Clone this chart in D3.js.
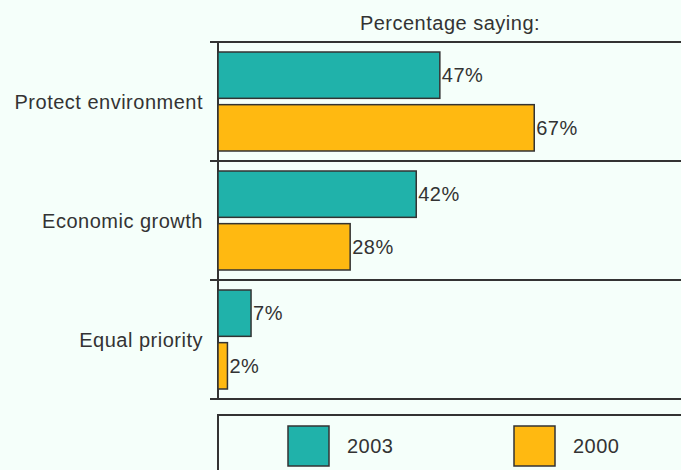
<!DOCTYPE html>
<html lang="en">
<head>
  <meta charset="UTF-8">
  <title>Percentage saying</title>
  <script src="https://d3js.org/d3.v7.min.js"></script>
  <style>
    html, body {
      margin: 0;
      padding: 0;
      background: #f5fffa;
    }
    svg text {
      font-family: 'Liberation Sans', Arial, sans-serif;
      font-size: 20px;
      letter-spacing: 0.5px;
      fill: #333;
    }
  </style>
</head>
<body>
  <div id="chart"></div>
  <script>
    var categories = ["Protect environment", "Economic growth", "Equal priority"];
    var seriesNames = ["2003", "2000"];
    var values2003 = [47, 42, 7];
    var values2000 = [67, 28, 2];
    var title = "Percentage saying:";

    var width = 681,
        height = 470,
        colors = ["#20b2aa", "#ffb911"],
        ink = "#333";

    var data = categories.map(function(c, i) {
      return { name: c, values: [values2003[i], values2000[i]] };
    });

    var svg = d3.select("#chart").append("svg")
      .attr("width", width)
      .attr("height", height);

    var x = d3.scaleLinear().domain([0, 100]).range([218, 690]);
    var y = d3.scaleBand().domain(categories).range([42, 399]);
    var ySub = d3.scaleBand().domain(seriesNames)
      .range([10, y.bandwidth() - 10])
      .paddingInner(0.12);

    // title
    svg.append("text")
      .attr("x", 450)
      .attr("y", 30)
      .attr("text-anchor", "middle")
      .text(title);

    // band separator lines
    var bounds = categories.map(function(c) { return y(c); }).concat([y.range()[1]]);
    svg.selectAll(".sep")
      .data(bounds)
      .enter().append("line")
      .attr("class", "sep")
      .attr("x1", 210)
      .attr("x2", width)
      .attr("y1", function(d) { return d; })
      .attr("y2", function(d) { return d; })
      .attr("stroke", ink)
      .attr("stroke-width", 2);

    // vertical axis
    svg.append("line")
      .attr("x1", x(0)).attr("x2", x(0))
      .attr("y1", y.range()[0]).attr("y2", y.range()[1])
      .attr("stroke", ink)
      .attr("stroke-width", 2);

    // category labels
    svg.selectAll(".cat")
      .data(categories)
      .enter().append("text")
      .attr("class", "cat")
      .attr("x", 203)
      .attr("y", function(d) { return y(d) + y.bandwidth() / 2; })
      .attr("dy", "0.35em")
      .attr("text-anchor", "end")
      .text(function(d) { return d; });

    var groups = svg.selectAll(".grp")
      .data(data)
      .enter().append("g")
      .attr("class", "grp")
      .attr("transform", function(d) { return "translate(0," + y(d.name) + ")"; });

    var items = groups.selectAll("g")
      .data(function(d) {
        return d.values.map(function(v, i) { return { key: seriesNames[i], value: v, i: i }; });
      })
      .enter().append("g");

    items.append("rect")
      .attr("x", x(0))
      .attr("y", function(d) { return ySub(d.key); })
      .attr("width", function(d) { return x(d.value) - x(0); })
      .attr("height", ySub.bandwidth())
      .attr("fill", function(d) { return colors[d.i]; })
      .attr("stroke", ink)
      .attr("stroke-width", 1.5);

    items.append("text")
      .attr("x", function(d) { return x(d.value) + 2; })
      .attr("y", function(d) { return ySub(d.key) + ySub.bandwidth() / 2; })
      .attr("dy", "0.35em")
      .text(function(d) { return d.value + "%"; });

    // legend
    var legend = svg.append("g");
    legend.append("rect")
      .attr("x", x(0))
      .attr("y", 415)
      .attr("width", width)
      .attr("height", 100)
      .attr("fill", "none")
      .attr("stroke", ink)
      .attr("stroke-width", 2);

    var li = legend.selectAll(".li")
      .data(seriesNames)
      .enter().append("g")
      .attr("class", "li")
      .attr("transform", function(d, i) { return "translate(" + (288 + i * 226) + ",426)"; });

    li.append("rect")
      .attr("width", 41)
      .attr("height", 40)
      .attr("fill", function(d, i) { return colors[i]; })
      .attr("stroke", ink)
      .attr("stroke-width", 1.5);

    li.append("text")
      .attr("x", 59)
      .attr("y", 20)
      .attr("dy", "0.35em")
      .text(function(d) { return d; });
  </script>
</body>
</html>
